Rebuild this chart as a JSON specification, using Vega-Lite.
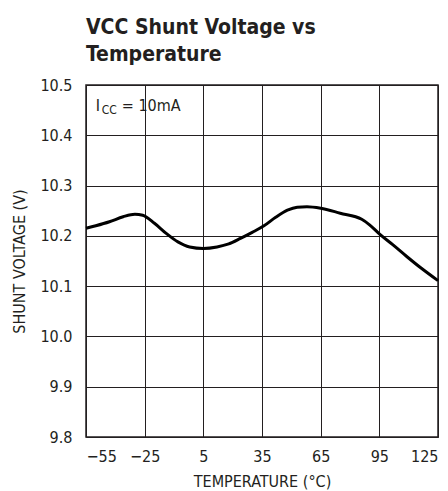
{
  "$schema": "https://vega.github.io/schema/vega-lite/v6.json",
  "width": 352,
  "height": 352,
  "autosize": {"type": "none"},
  "padding": {"left": 86, "top": 85, "right": 10, "bottom": 54},
  "background": "white",
  "title": {
    "text": ["VCC Shunt Voltage vs", "Temperature"],
    "anchor": "start",
    "frame": "group",
    "font": "DejaVu Sans Condensed, Roboto, sans-serif",
    "fontSize": 21,
    "fontWeight": "bold",
    "color": "#231f20",
    "lineHeight": 27,
    "offset": 12
  },
  "config": {
    "view": {"stroke": "#231f20", "strokeWidth": 1.5},
    "axis": {
      "grid": true,
      "gridColor": "#231f20",
      "gridWidth": 1,
      "gridOpacity": 1,
      "domain": false,
      "ticks": false,
      "labelFont": "DejaVu Sans Condensed, Roboto, sans-serif",
      "labelFontSize": 16,
      "labelColor": "#231f20",
      "titleFont": "DejaVu Sans Condensed, Roboto, sans-serif",
      "titleFontSize": 16,
      "titleFontWeight": "normal",
      "titleColor": "#231f20"
    }
  },
  "data": {
    "values": [
      {"t": -55, "v": 10.215},
      {"t": -50, "v": 10.220},
      {"t": -43, "v": 10.228},
      {"t": -36, "v": 10.238},
      {"t": -30, "v": 10.243},
      {"t": -26, "v": 10.241},
      {"t": -20, "v": 10.225},
      {"t": -14, "v": 10.205},
      {"t": -8, "v": 10.188},
      {"t": -2, "v": 10.178},
      {"t": 5, "v": 10.175},
      {"t": 12, "v": 10.178},
      {"t": 18, "v": 10.184},
      {"t": 24, "v": 10.195},
      {"t": 30, "v": 10.207},
      {"t": 36, "v": 10.220},
      {"t": 42, "v": 10.237},
      {"t": 48, "v": 10.251},
      {"t": 53, "v": 10.257},
      {"t": 58, "v": 10.258},
      {"t": 65, "v": 10.255},
      {"t": 75, "v": 10.245},
      {"t": 86, "v": 10.233},
      {"t": 90, "v": 10.222},
      {"t": 95, "v": 10.204},
      {"t": 102, "v": 10.182},
      {"t": 109, "v": 10.159},
      {"t": 116, "v": 10.137},
      {"t": 125, "v": 10.111}
    ]
  },
  "layer": [
    {
      "mark": {"type": "line", "color": "black", "strokeWidth": 3, "interpolate": "monotone"},
      "encoding": {
        "x": {
          "field": "t", "type": "quantitative",
          "scale": {"domain": [-55, 125], "nice": false, "zero": false},
          "axis": {"values": [-55, -25, 5, 35, 65, 95, 125], "title": "TEMPERATURE (°C)", "labelPadding": 11, "titlePadding": 9}
        },
        "y": {
          "field": "v", "type": "quantitative",
          "scale": {"domain": [9.8, 10.5], "nice": false, "zero": false},
          "axis": {"values": [9.8, 9.9, 10.0, 10.1, 10.2, 10.3, 10.4, 10.5], "format": ".1f", "title": "SHUNT VOLTAGE (V)", "labelPadding": 14, "titlePadding": 12}
        }
      }
    },
    {
      "data": {"values": [{"t": -50, "v": 10.458, "a": "I", "b": "CC", "c": "= 10mA"}]},
      "layer": [
        {"mark": {"type": "text", "align": "left", "baseline": "middle", "font": "DejaVu Sans Condensed, Roboto, sans-serif", "fontSize": 16, "color": "#231f20"},
         "encoding": {"x": {"field": "t", "type": "quantitative"}, "y": {"field": "v", "type": "quantitative"}, "text": {"field": "a"}}},
        {"mark": {"type": "text", "align": "left", "baseline": "middle", "font": "DejaVu Sans Condensed, Roboto, sans-serif", "fontSize": 12, "color": "#231f20", "dx": 6, "dy": 4},
         "encoding": {"x": {"field": "t", "type": "quantitative"}, "y": {"field": "v", "type": "quantitative"}, "text": {"field": "b"}}},
        {"mark": {"type": "text", "align": "left", "baseline": "middle", "font": "DejaVu Sans Condensed, Roboto, sans-serif", "fontSize": 16, "color": "#231f20", "dx": 26},
         "encoding": {"x": {"field": "t", "type": "quantitative"}, "y": {"field": "v", "type": "quantitative"}, "text": {"field": "c"}}}
      ]
    }
  ]
}
